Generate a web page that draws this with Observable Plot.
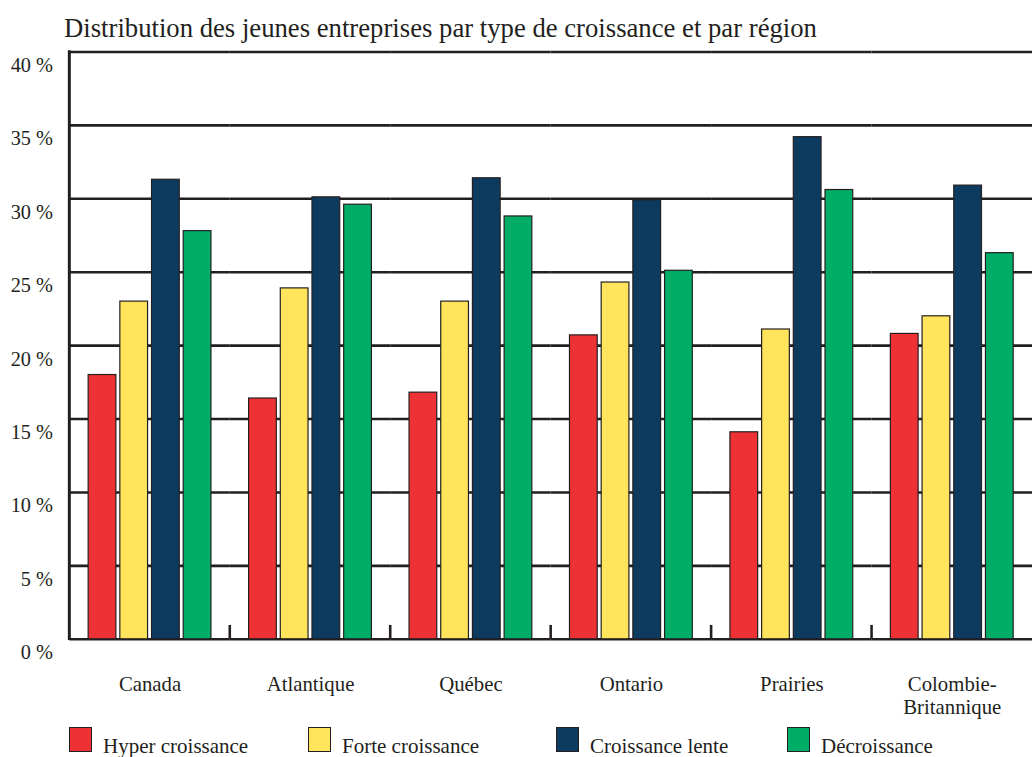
<!DOCTYPE html>
<html><head><meta charset="utf-8">
<script src="https://cdn.jsdelivr.net/npm/d3@7"></script>
<script src="https://cdn.jsdelivr.net/npm/@observablehq/plot@0.6"></script>
<style>
html,body{margin:0;padding:0;background:#fff;overflow:hidden;width:1032px;height:757px;}
#wrap{position:relative;width:1032px;height:757px;overflow:hidden;font-family:"Liberation Serif","Times New Roman",serif;color:#231f20;}
#title{position:absolute;left:64px;top:15px;font-size:26.7px;line-height:1;white-space:nowrap;}
.sw{position:absolute;top:727px;width:23px;height:25px;border:1px solid #231f20;box-sizing:border-box;}
.lt{position:absolute;top:736px;font-size:21px;line-height:1;white-space:nowrap;}
#chart{position:absolute;left:0;top:0;}
</style></head><body><div id="wrap"><div id="chart"></div><div id="title"></div><div id="legend"></div></div>
<script>
const titleText = "Distribution des jeunes entreprises par type de croissance et par région";
const regions = ["Canada", "Atlantique", "Québec", "Ontario", "Prairies", "Colombie-Britannique"];
const regionLabels = ["Canada", "Atlantique", "Québec", "Ontario", "Prairies", "Colombie-\nBritannique"];
const types = ["Hyper croissance", "Forte croissance", "Croissance lente", "Décroissance"];
const typeColors = ["#ee3134", "#ffe45c", "#0d3b5f", "#00ad66"];
const hyperCroissance = [18.0, 16.4, 16.8, 20.7, 14.1, 20.8];
const forteCroissance = [23.0, 23.9, 23.0, 24.3, 21.1, 22.0];
const croissanceLente = [31.3, 30.1, 31.4, 29.9, 34.2, 30.9];
const decroissance = [27.8, 29.6, 28.8, 25.1, 30.6, 26.3];
const yTicks = [0, 5, 10, 15, 20, 25, 30, 35, 40];

const series = [hyperCroissance, forteCroissance, croissanceLente, decroissance];
const rows = [];
regions.forEach((r, i) => types.forEach((t, j) => rows.push({region: r, type: t, value: series[j][i]})));

const ink = "#231f20";
const plot = Plot.plot({
  width: 1042, height: 757,
  marginLeft: 69, marginRight: 0, marginTop: 52, marginBottom: 112,
  style: {fontFamily: "'Liberation Serif', serif", fontSize: "21px", color: ink, background: "transparent", overflow: "visible"},
  fx: {domain: regions, padding: 0, axis: null},
  x: {domain: types, paddingInner: 0.11, paddingOuter: 0.55, axis: null},
  y: {domain: [0, 40], axis: null},
  color: {domain: types, range: typeColors},
  marks: [
    Plot.ruleY(yTicks, {stroke: ink, strokeWidth: 2.6}),
    Plot.barY(rows, {fx: "region", x: "type", y: "value", fill: "type", stroke: ink, strokeWidth: 1.2}),
    Plot.text(regions, {fx: d => d, text: (d, i) => regionLabels[i], frameAnchor: "bottom", lineAnchor: "top", dy: 35.5, lineHeight: 1.1, fontSize: 21, fill: ink}),
    Plot.axisY(yTicks, {tickSize: 0, tickPadding: 17, dy: 13.5, tickFormat: d => d + " %", label: null, fontSize: 20.5, fill: ink})
  ]
});

const svg = d3.select(plot);
const fx = plot.scale("fx"), y = plot.scale("y");
const g = svg.append("g").attr("stroke", ink);
const x0 = fx.apply(regions[0]);
g.append("line").attr("x1", x0).attr("x2", x0).attr("y1", y.apply(40) - 1.3).attr("y2", y.apply(0) + 1.3).attr("stroke-width", 3);
regions.slice(1).forEach(r => {
  const xb = fx.apply(r);
  g.append("line").attr("x1", xb).attr("x2", xb).attr("y1", y.apply(0)).attr("y2", y.apply(0) - 14).attr("stroke-width", 2.6);
});
document.getElementById("chart").appendChild(plot);
document.getElementById("title").textContent = titleText;

const legendX = [69, 308, 556, 787];
const leg = document.getElementById("legend");
types.forEach((t, j) => {
  const s = document.createElement("div");
  s.className = "sw"; s.style.left = legendX[j] + "px"; s.style.background = typeColors[j];
  leg.appendChild(s);
  const l = document.createElement("div");
  l.className = "lt"; l.style.left = (legendX[j] + 34) + "px"; l.textContent = t;
  leg.appendChild(l);
});
</script></body></html>
